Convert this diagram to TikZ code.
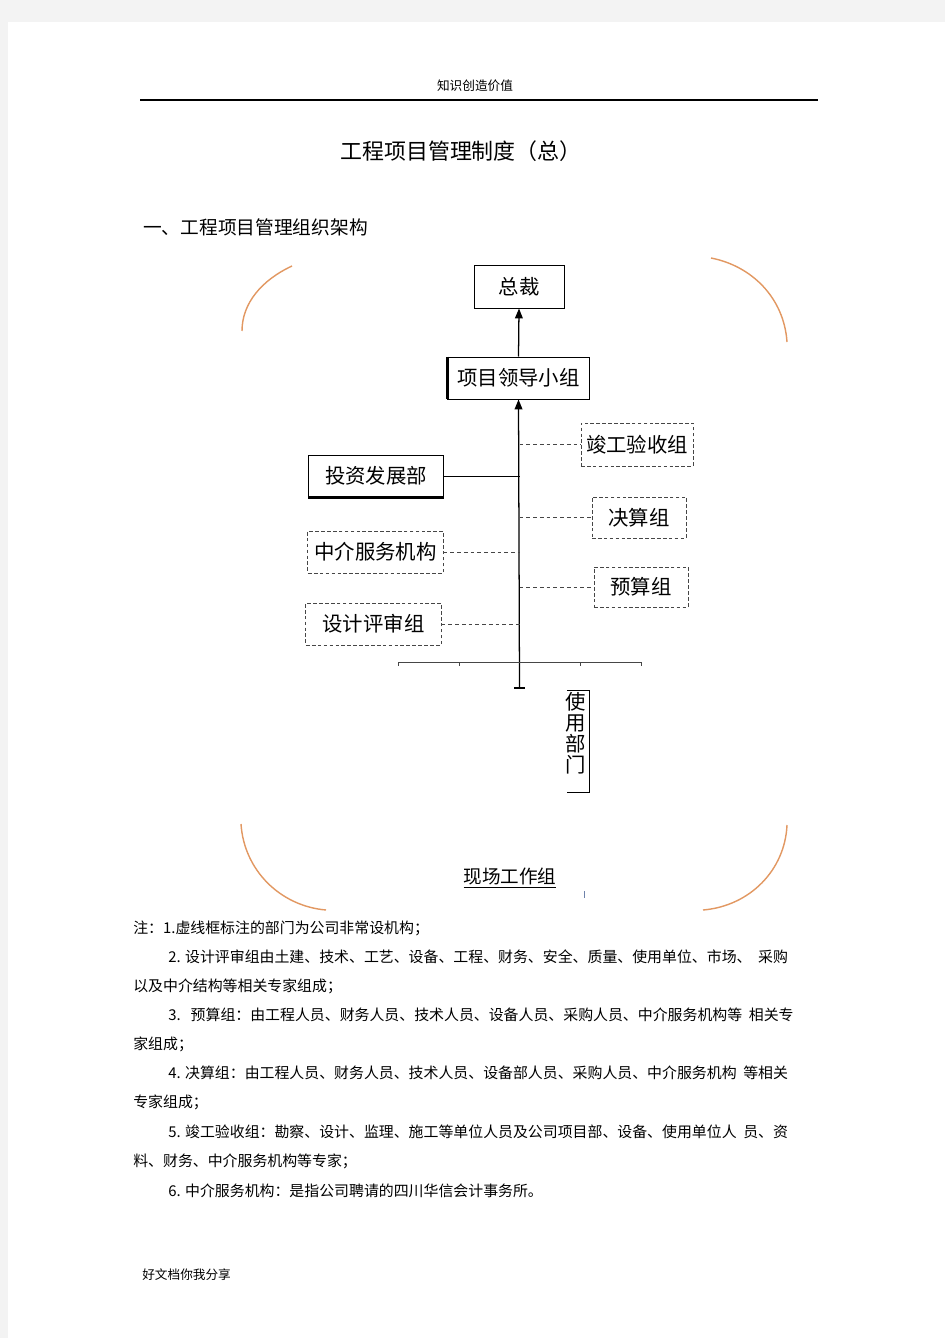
\documentclass[tikz,border=0pt]{standalone}
\usepackage{fontspec}
\setmainfont{Noto Sans CJK SC}
\usetikzlibrary{arrows.meta}

\definecolor{pagegray}{RGB}{243,243,243}
\definecolor{arcorange}{RGB}{226,152,98}
\definecolor{dashgray}{RGB}{70,70,70}
\definecolor{cursorblue}{RGB}{110,130,170}

\tikzset{
  orgbox/.style={draw, line width=0.7pt, inner sep=0pt, font=\fontsize{14.5pt}{16pt}\selectfont},
  dashbox/.style={orgbox, draw=dashgray, dash pattern=on 2.6pt off 1.6pt},
  dashlink/.style={draw=dashgray, line width=0.6pt, dash pattern=on 2.8pt off 2pt},
  notetext/.style={anchor=west, inner sep=0pt, font=\fontsize{10.6pt}{12pt}\selectfont},
  orangearc/.style={draw=arcorange, line width=1pt}
}

\begin{document}
\begin{tikzpicture}[x=0.025cm, y=-0.025cm]
        % page
        \fill [pagegray] (0,0) rectangle (945,1338);
        \fill [white] (8,22) rectangle (945,1338);

        % header and titles
        \node (header) at (475, 86) [inner sep=0pt, font=\fontsize{9pt}{10pt}\selectfont] {知识创造价值};
        \draw [line width=0.9pt] (140,100) -- (818,100);
        \node (title) at (461, 151) [inner sep=0pt, font=\fontsize{15.6pt}{18pt}\selectfont] {工程项目管理制度（总）};
        \node (section) at (143, 227) [anchor=west, inner sep=0pt, font=\fontsize{13.3pt}{15pt}\selectfont] {一、工程项目管理组织架构};

        % orange corner arcs
        \draw [orangearc] (242,331) .. controls (242,303) and (262,280) .. (292,266);
        \draw [orangearc] (711,258) .. controls (752,266) and (784,298) .. (787,342);
        \draw [orangearc] (241,824) .. controls (244,870) and (280,906) .. (326,910);
        \draw [orangearc] (787,825) .. controls (785,870) and (750,906) .. (703,910);

        % boxes
        \node (zongcai) at (519, 286.5) [orgbox, minimum width=2.25cm, minimum height=1.075cm] {总裁};
        \node (lead) at (518.5, 378) [orgbox, minimum width=3.525cm, minimum height=1.05cm] {项目领导小组};
        \node (jungong) at (637, 444.5) [dashbox, minimum width=2.8cm, minimum height=1.075cm] {竣工验收组};
        \node (invest) at (376, 476) [orgbox, minimum width=3.35cm, minimum height=1.05cm] {投资发展部};
        \node (juesuan) at (639, 517.5) [dashbox, minimum width=2.35cm, minimum height=1.025cm] {决算组};
        \node (agency) at (375.5, 552) [dashbox, minimum width=3.375cm, minimum height=1.05cm] {中介服务机构};
        \node (yusuan) at (641, 587) [dashbox, minimum width=2.35cm, minimum height=1cm] {预算组};
        \node (review) at (373.5, 624) [dashbox, minimum width=3.375cm, minimum height=1.05cm] {设计评审组};
        \draw [line width=1.6pt] (lead.north west) -- (lead.south west);
        \draw [line width=1.6pt] (invest.south west) -- (invest.south east);

        % spine
        \coordinate (spinebot) at (519.5, 688);
        \draw [line width=0.9pt, -{Triangle[width=5.5pt, length=7pt]}] (lead.north) -- (zongcai.south);
        \draw [line width=0.9pt, -{Triangle[width=5.5pt, length=7pt]}] (spinebot) -- (lead.south);
        \draw [line width=0.8pt] (514,688) -- (525,688);

        % links
        \draw [dashlink] (jungong.west -| spinebot) -- (jungong.west);
        \draw [line width=0.6pt] (invest.east) -- (invest.east -| spinebot);
        \draw [dashlink] (juesuan.west -| spinebot) -- (juesuan.west);
        \draw [dashlink] (agency.east) -- (agency.east -| spinebot);
        \draw [dashlink] (yusuan.west -| spinebot) -- (yusuan.west);
        \draw [dashlink] (review.east) -- (review.east -| spinebot);

        % axis with ticks
        \coordinate (axl) at (398, 662);
        \coordinate (axr) at (641, 662);
        \draw [line width=0.6pt, dashgray] (axl) -- (axr);
        \foreach \x in {398, 459, 580, 641}
            \draw [line width=0.6pt, dashgray] (\x, 662) -- (\x, 666);

        % user department
        \node (users) at (576, 733) [inner sep=0pt, align=center, font=\fontsize{14.5pt}{15pt}\selectfont] {使\\用\\部\\门};
        \draw [line width=0.6pt] (567,690) -- (589,690) -- (589,792) -- (567,792);

        % site group
        \node (site) at (510, 878) [inner sep=0pt, font=\fontsize{13.2pt}{15pt}\selectfont] {\underline{现场工作组}};
        \draw [cursorblue, line width=0.6pt] (584,891) -- (584,898);

        % notes
        \node (n1) at (133, 928) [notetext] {注：1.虚线框标注的部门为公司非常设机构；};
        \node (n2) at (168, 957) [notetext] {2. 设计评审组由土建、技术、工艺、设备、工程、财务、安全、质量、使用单位、市场、\ \ 采购};
        \node (n2b) at (133, 986) [notetext] {以及中介结构等相关专家组成；};
        \node (n3) at (168, 1015) [notetext] {3.\ \ \ 预算组：由工程人员、财务人员、技术人员、设备人员、采购人员、中介服务机构等\ \ 相关专};
        \node (n3b) at (133, 1044) [notetext] {家组成；};
        \node (n4) at (168, 1073) [notetext] {4. 决算组：由工程人员、财务人员、技术人员、设备部人员、采购人员、中介服务机构\ \ 等相关};
        \node (n4b) at (133, 1102) [notetext] {专家组成；};
        \node (n5) at (168, 1132) [notetext] {5. 竣工验收组：勘察、设计、监理、施工等单位人员及公司项目部、设备、使用单位人\ \ 员、资};
        \node (n5b) at (133, 1161) [notetext] {料、财务、中介服务机构等专家；};
        \node (n6) at (168, 1191) [notetext] {6. 中介服务机构：是指公司聘请的四川华信会计事务所。};

        % footer
        \node (footer) at (142, 1275) [anchor=west, inner sep=0pt, font=\fontsize{9pt}{10pt}\selectfont] {好文档你我分享};
    \end{tikzpicture}
\end{document}
